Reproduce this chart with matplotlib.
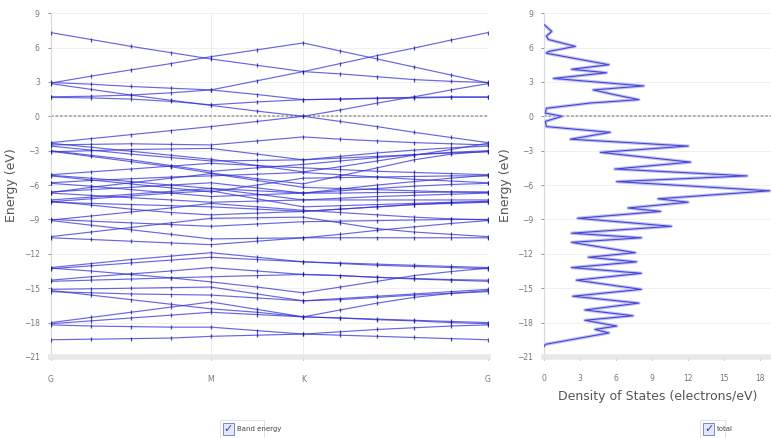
import matplotlib
matplotlib.use("Agg")
import matplotlib.pyplot as plt
from matplotlib.patches import Rectangle

# k-path G-M-K-G (hexagonal), with the sampled points along it
k_dist = [0.0, 0.1443, 0.2887, 0.4330, 0.5774, 0.7440, 0.9107,
          1.0440, 1.1774, 1.3107, 1.4440, 1.5774]
k_label_idx = [0, 4, 6, 11]
k_labels = ['G', 'M', 'K', 'G']

# band energies (eV) at each k point
conduction_bands = [
    [7.3, 6.7, 6.1, 5.55, 5.0, 4.45, 3.9, 4.6, 5.3, 5.95, 6.65, 7.3],
    [2.9, 3.5, 4.05, 4.6, 5.2, 5.8, 6.4, 5.7, 5.0, 4.3, 3.6, 2.9],
    [2.95, 2.8, 2.6, 2.45, 2.3, 1.9, 1.45, 1.5, 1.55, 1.6, 1.65, 1.65],
    [2.85, 2.35, 1.85, 1.4, 0.95, 0.45, 0.0, 0.55, 1.15, 1.7, 2.3, 2.85],
    [1.7, 1.75, 1.85, 2.05, 2.3, 3.1, 3.9, 3.7, 3.45, 3.2, 3.05, 2.95],
    [1.65, 1.6, 1.5, 1.3, 1.0, 1.25, 1.45, 1.5, 1.6, 1.65, 1.7, 1.7],
]
valence_bands = [
    [-2.3, -1.95, -1.6, -1.25, -0.9, -0.45, 0.0, -0.45, -0.9, -1.4, -1.85, -2.3],
    [-2.5, -2.45, -2.4, -2.45, -2.5, -2.15, -1.8, -2.0, -2.15, -2.3, -2.4, -2.5],
    [-2.6, -2.95, -3.3, -3.6, -3.9, -3.85, -3.8, -3.5, -3.2, -2.95, -2.75, -2.6],
    [-3.0, -3.4, -3.8, -4.3, -4.8, -4.5, -4.2, -3.9, -3.6, -3.35, -3.15, -3.0],
    [-3.1, -3.0, -2.9, -2.85, -2.8, -3.3, -3.8, -3.65, -3.5, -3.35, -3.2, -3.1],
    [-2.35, -2.7, -3.05, -3.4, -3.75, -4.3, -4.85, -4.4, -3.9, -3.4, -2.9, -2.35],
    [-3.05, -3.5, -3.95, -4.4, -4.95, -5.45, -5.9, -5.2, -4.5, -3.8, -3.3, -3.05],
    [-5.1, -4.85, -4.6, -4.35, -4.1, -4.3, -4.5, -4.65, -4.8, -4.9, -5.0, -5.1],
    [-5.15, -5.4, -5.7, -6.0, -6.3, -6.5, -6.7, -6.35, -6.0, -5.7, -5.4, -5.15],
    [-5.2, -5.55, -5.9, -6.25, -6.6, -6.0, -5.4, -5.35, -5.3, -5.25, -5.2, -5.2],
    [-5.8, -5.6, -5.45, -5.3, -5.2, -5.05, -4.9, -5.1, -5.3, -5.5, -5.65, -5.8],
    [-5.85, -6.1, -6.4, -6.7, -7.0, -6.85, -6.7, -6.5, -6.3, -6.1, -5.95, -5.85],
    [-6.6, -6.4, -6.2, -6.0, -5.8, -6.25, -6.7, -6.7, -6.65, -6.65, -6.6, -6.6],
    [-6.65, -6.2, -5.8, -5.4, -5.0, -5.6, -6.2, -6.3, -6.4, -6.5, -6.6, -6.65],
    [-6.7, -6.9, -7.1, -7.3, -7.5, -7.4, -7.3, -7.15, -7.0, -6.9, -6.8, -6.7],
    [-7.3, -7.05, -6.8, -6.55, -6.3, -6.8, -7.3, -7.3, -7.3, -7.3, -7.3, -7.3],
    [-7.4, -7.75, -8.1, -8.4, -8.6, -8.45, -8.3, -8.1, -7.9, -7.7, -7.55, -7.4],
    [-7.45, -7.2, -6.95, -6.7, -6.5, -7.2, -7.9, -7.8, -7.7, -7.6, -7.5, -7.45],
    [-7.5, -7.6, -7.7, -7.8, -7.9, -8.1, -8.3, -8.1, -7.9, -7.7, -7.6, -7.5],
]
deep_bands = [
    [-9.0, -9.15, -9.3, -9.45, -9.6, -9.4, -9.2, -9.15, -9.1, -9.05, -9.0, -9.0],
    [-9.05, -8.7, -8.35, -8.0, -7.6, -7.9, -8.2, -8.4, -8.6, -8.8, -8.95, -9.05],
    [-9.1, -9.5, -9.9, -10.3, -10.7, -10.65, -10.6, -10.3, -9.95, -9.65, -9.35, -9.1],
    [-10.5, -10.1, -9.7, -9.3, -8.9, -8.85, -8.8, -9.3, -9.8, -10.1, -10.3, -10.5],
    [-10.6, -10.75, -10.9, -11.05, -11.2, -10.9, -10.6, -10.6, -10.6, -10.6, -10.6, -10.6],
    [-13.2, -12.85, -12.5, -12.2, -11.9, -12.3, -12.7, -12.8, -12.9, -13.0, -13.1, -13.2],
    [-13.3, -13.05, -12.8, -12.55, -12.3, -12.5, -12.7, -12.85, -13.0, -13.1, -13.2, -13.3],
    [-13.25, -13.5, -13.8, -14.1, -14.45, -14.9, -15.4, -14.9, -14.4, -13.9, -13.55, -13.25],
    [-14.3, -14.0, -13.75, -13.5, -13.2, -13.5, -13.8, -13.9, -14.05, -14.15, -14.25, -14.3],
    [-14.4, -14.3, -14.2, -14.1, -14.0, -13.9, -13.8, -13.9, -14.05, -14.2, -14.3, -14.4],
    [-15.1, -15.05, -15.0, -14.95, -14.9, -15.5, -16.1, -15.9, -15.7, -15.5, -15.3, -15.1],
    [-15.2, -15.6, -16.0, -16.4, -16.8, -17.1, -17.5, -16.9, -16.3, -15.8, -15.45, -15.2],
    [-15.3, -15.4, -15.5, -15.55, -15.6, -15.85, -16.1, -16.0, -15.8, -15.6, -15.45, -15.3],
    [-18.0, -17.55, -17.1, -16.65, -16.2, -16.85, -17.5, -17.6, -17.7, -17.8, -17.9, -18.0],
    [-18.1, -17.85, -17.6, -17.35, -17.1, -17.3, -17.5, -17.6, -17.75, -17.85, -18.0, -18.1],
    [-18.2, -18.3, -18.35, -18.4, -18.4, -18.7, -19.0, -18.8, -18.6, -18.45, -18.3, -18.2],
    [-19.5, -19.45, -19.4, -19.35, -19.2, -19.1, -19.0, -19.1, -19.2, -19.3, -19.4, -19.5],
]

# total density of states (electrons/eV) vs energy (eV)
dos_energy = [8.0, 7.4, 7.0, 6.7, 6.1, 5.65, 5.5, 4.5, 4.1, 3.8, 3.3, 2.65, 2.3, 1.9,
              1.45, 1.15, 0.7, 0.28, 0.0, -0.45, -0.9, -1.4, -2.0, -2.6, -3.15, -4.0,
              -4.6, -5.2, -5.7, -6.5, -7.2, -7.5, -8.0, -8.3, -8.9, -9.6, -10.2, -10.6,
              -11.0, -11.9, -12.3, -12.7, -13.2, -13.7, -14.3, -15.1, -15.7, -16.3,
              -16.9, -17.4, -17.8, -18.3, -18.6, -18.9, -19.9, -20.1]
dos_total = [0.0, 0.64, 0.2, 0.36, 2.6, 0.36, 0.2, 5.4, 2.3, 5.2, 0.8, 8.3, 4.1, 5.8,
             7.9, 3.8, 0.2, 0.1, 1.5, 0.1, 0.2, 5.5, 2.2, 12.0, 4.7, 12.2, 5.9, 16.9,
             6.05, 18.8, 9.5, 12.0, 7.0, 9.7, 2.8, 10.6, 2.3, 8.1, 2.3, 7.6, 3.7, 7.7,
             2.3, 8.1, 2.7, 8.1, 2.4, 7.9, 3.4, 7.4, 3.4, 6.05, 4.25, 5.4, 0.1, 0.0]

band_color = '#3434d8'
grid_color = '#eeeeee'
fermi_color = '#a8a898'

plt.rcParams['font.family'] = ['DejaVu Sans']
fig = plt.figure(figsize=(7.71, 4.38), dpi=100)

ax = fig.add_axes([0.0661, 0.185, 0.5668, 0.785])
ax2 = fig.add_axes([0.7056, 0.185, 0.2944, 0.785])


def style_axes(a, label_x):
    a.set_ylim(-21, 9)
    a.set_yticks(range(-21, 10, 3))
    a.tick_params(axis='both', labelsize=5.5, colors='#666666', length=2,
                  width=0.5, pad=6)
    a.tick_params(axis='x', pad=11)
    for t in a.get_yticklabels() + a.get_xticklabels():
        t.set_color('#777777')
    for s in ['top', 'right']:
        a.spines[s].set_visible(False)
    a.spines['left'].set_color('#d8d8d8')
    a.spines['left'].set_linewidth(0.8)
    a.spines['bottom'].set_color('#e8e8e8')
    a.spines['bottom'].set_linewidth(4)
    for yv in range(-18, 10, 3):
        a.axhline(yv, color=grid_color, lw=0.6, zorder=0)
    a.set_ylabel('Energy (eV)', fontsize=9, color='#555555')
    a.yaxis.set_label_coords(label_x, 0.5)
    a.axhline(0, color=fermi_color, lw=1.3, dashes=(1.5, 1.0), zorder=1)


style_axes(ax, -0.075)
ax.set_xlim(k_dist[0], k_dist[-1])
ax.set_xticks([k_dist[i] for i in k_label_idx])
ax.set_xticklabels(k_labels)
for i in k_label_idx[1:]:
    ax.axvline(k_dist[i], color='#e8e8e8', lw=0.6, zorder=0)
ax.axvline(k_dist[-1], color='#e0e0e0', lw=0.8, zorder=0)

for band in conduction_bands + valence_bands + deep_bands:
    ax.plot(k_dist, band, color=band_color, lw=0.85, alpha=0.75, zorder=2)
    ax.plot(k_dist, band, ls='none', marker='|', ms=2.8, mew=0.9,
            color='#1c1c90', alpha=0.8, zorder=3)

style_axes(ax2, -0.14)
ax2.set_xlim(0, 18.9)
ax2.set_xticks(range(0, 19, 3))
ax2.tick_params(axis='x', pad=10)
ax2.plot(dos_total, dos_energy, color='#c4c4f2', lw=2.4, zorder=2)
ax2.plot(dos_total, dos_energy, color='#4646d8', lw=0.8, zorder=3)
ax2.set_xlabel('Density of States (electrons/eV)', fontsize=9,
               color='#555555', labelpad=5)


def checkbox_legend(x, y, w, label):
    fig.add_artist(Rectangle((x, y), w, 0.042, transform=fig.transFigure,
                             fc='white', ec='#dddddd', lw=0.6))
    fig.add_artist(Rectangle((x + 0.004, y + 0.007), 0.014, 0.028,
                             transform=fig.transFigure, fc='#e4e8fa',
                             ec='#7a86c8', lw=0.7))
    fig.text(x + 0.011, y + 0.021, '\u2713', fontsize=8, color='#2a40c8',
             ha='center', va='center', fontweight='bold')
    fig.text(x + 0.022, y + 0.021, label, fontsize=5, color='#444444',
             va='center')


checkbox_legend(0.285, 0.0, 0.058, 'Band energy')
checkbox_legend(0.908, 0.0, 0.032, 'total')

fig.savefig('out.png', dpi=100)
